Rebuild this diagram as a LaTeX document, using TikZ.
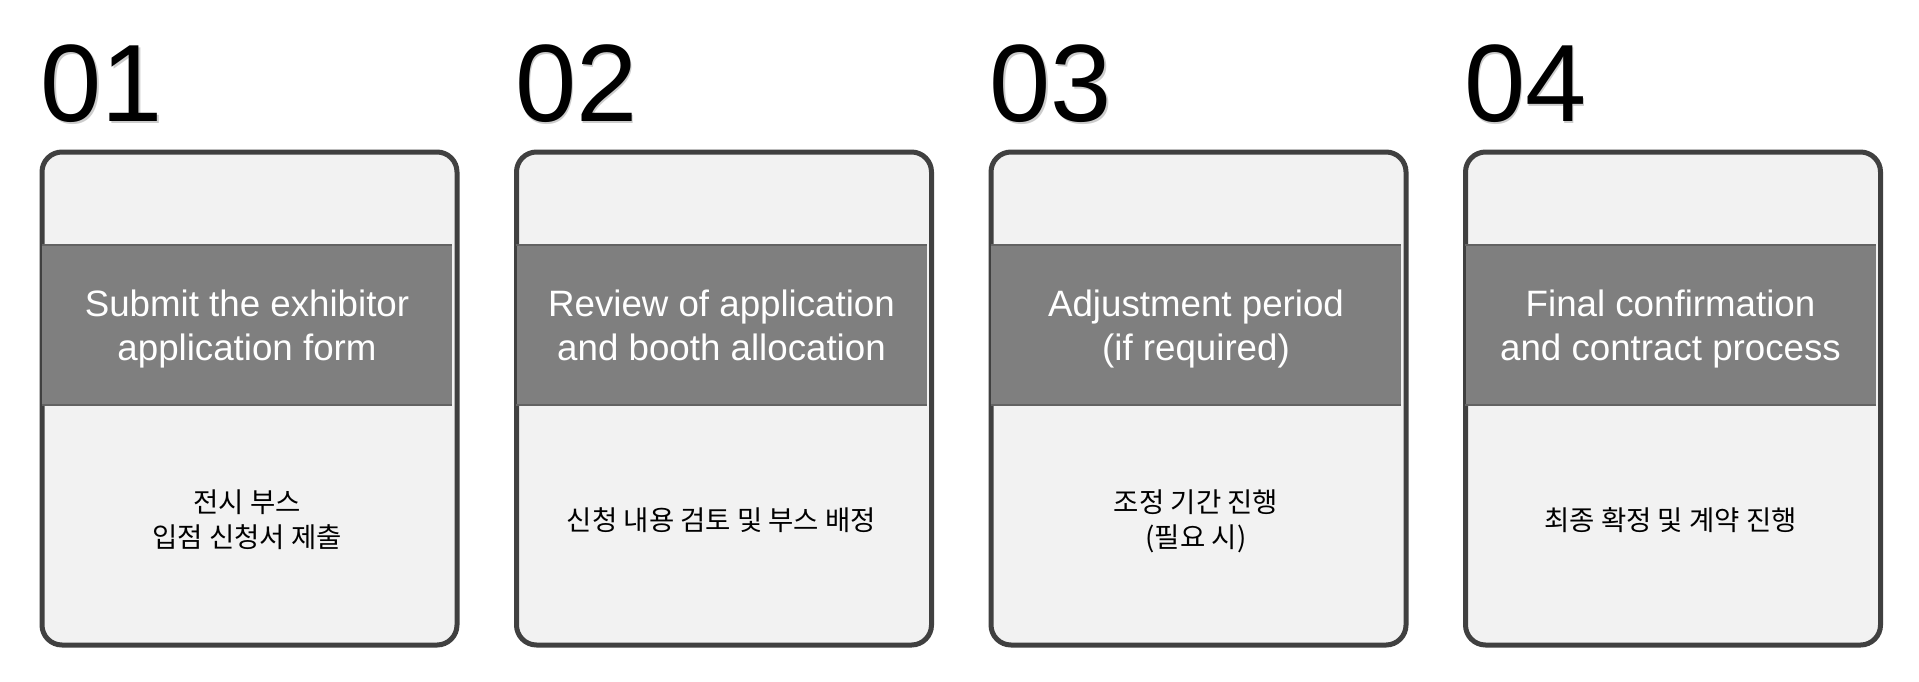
\documentclass[tikz,border=0pt]{standalone}
\usepackage{fontspec}
\setmainfont{Liberation Sans}
\newfontfamily\krfont{Noto Sans CJK KR}
\definecolor{cardfill}{HTML}{F2F2F2}
\definecolor{cardline}{HTML}{404040}
\definecolor{bandfill}{HTML}{7F7F7F}
\definecolor{bandline}{HTML}{636363}
\begin{document}
\begin{tikzpicture}[x=1pt,y=-1pt,
  card/.style={draw=cardline, line width=5pt, fill=cardfill, rounded corners=20pt,
    minimum width=415pt, minimum height=493pt, inner sep=0pt, anchor=north west},
  band/.style={fill=bandfill, minimum width=410pt, minimum height=160pt, inner sep=0pt},
  title/.style={text=white, font=\fontsize{36.7}{44}\selectfont, align=center, inner sep=0pt},
  bandedge/.style={draw=bandline, line width=1.5pt},
  desc/.style={font=\krfont\fontsize{27.5}{35}\selectfont, align=center, text=black,
    inner sep=0pt},
  num/.style={font=\fontsize{110}{110}\selectfont, anchor=base west, inner sep=0pt},
  numshadow/.style={num, text=black, opacity=0.2}
]
\useasboundingbox (0,0) rectangle (1919,681);
\fill[white] (0,0) rectangle (1919,681);
\foreach \i/\n/\t/\k in {
  0/01/{\strut Submit the exhibitor\\application form\strut}/{\strut 전시 부스\\입점 신청서 제출\strut},
  1/02/{\strut Review of application\\and booth allocation\strut}/{\strut 신청 내용 검토 및 부스 배정\strut},
  2/03/{\strut Adjustment period\\(if required)\strut}/{\strut 조정 기간 진행\\(필요 시)\strut},
  3/04/{\strut Final confirmation\\and contract process\strut}/{\strut 최종 확정 및 계약 진행\strut}}
{
  \pgfmathsetmacro\xx{39.5+474.5*\i}
  \pgfmathsetmacro\cx{\xx+207.5}
  \node[numshadow] (numsh\i) at (\xx+2.5,123.5) {\n};
  \node[num] (num\i) at (\xx+1,121.5) {\n};
  \node[card] (card\i) at (\xx,149.5) {};
  \node[band] (band\i) at (\cx,325) {};
  \draw[bandedge] (band\i.north west) -- (band\i.north east);
  \draw[bandedge] (band\i.south west) -- (band\i.south east);
  \node[title] (title\i) at (\cx,330) {\t};
  \node[desc] (desc\i) at (\cx,523) {\k};
}
\end{tikzpicture}
\end{document}
